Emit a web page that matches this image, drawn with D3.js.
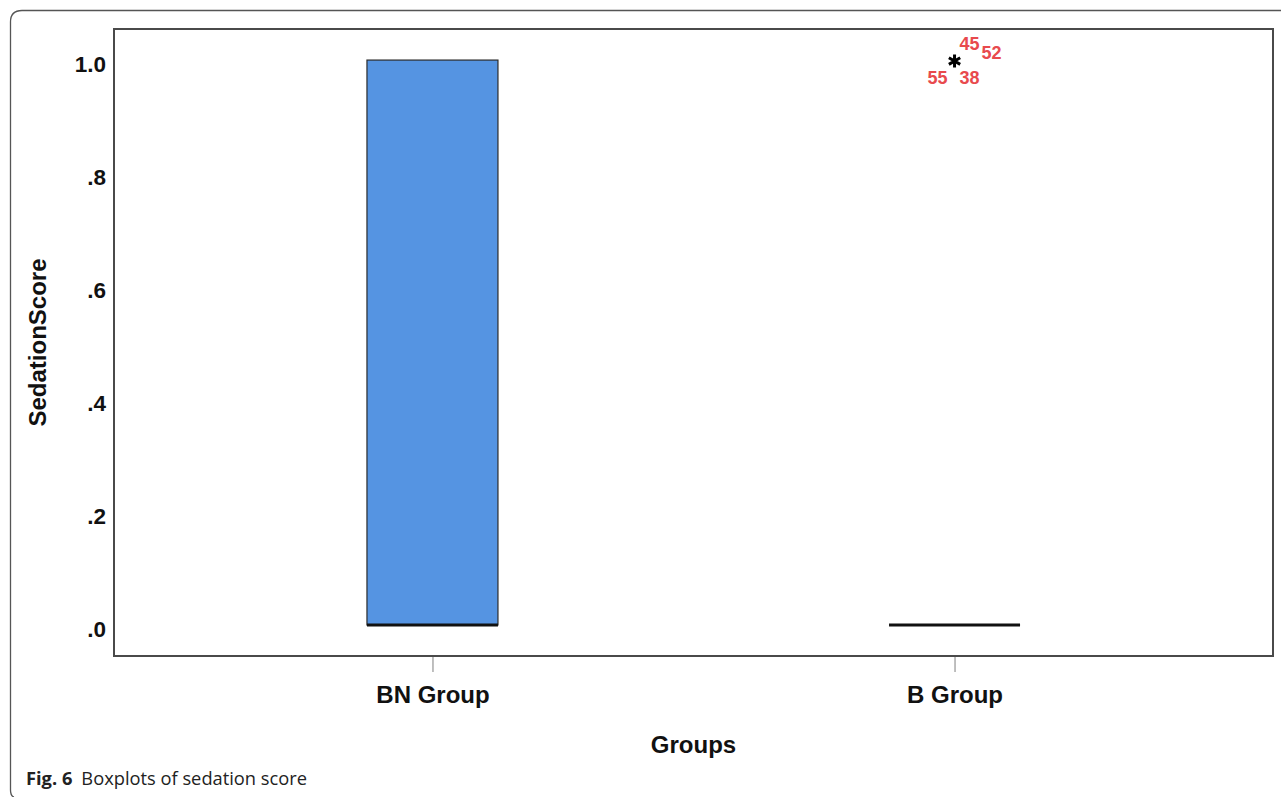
<!DOCTYPE html>
<html>
<head>
<meta charset="utf-8">
<script src="https://cdn.jsdelivr.net/npm/d3@7"></script>
<style>
  html, body { margin: 0; padding: 0; background: #fff; }
  svg { display: block; }
</style>
</head>
<body>
<svg id="chart" width="1281" height="797"></svg>
<script>
// Group labels on the x axis
const groups = ["BN Group", "B Group"];
// Five-number summaries per group (min, q1, median, q3, max)
const boxMin = [0, 0];
const boxQ1 = [0, 0];
const boxMedian = [0, 0];
const boxQ3 = [1, 0];
const boxMax = [1, 0];
// Extreme values (drawn as asterisks) with their case numbers
const extremeGroup = ["B Group", "B Group", "B Group", "B Group"];
const extremeValue = [1, 1, 1, 1];
const extremeCase = ["45", "52", "55", "38"];
// Y-axis tick values and labels
const yTicks = [0, 0.2, 0.4, 0.6, 0.8, 1.0];
const yTickLabels = [".0", ".2", ".4", ".6", ".8", "1.0"];

const svg = d3.select("#chart");
const labelFont = "Liberation Sans, Arial, sans-serif";

// Outer figure frame (rounded top-left corner, open to the right)
svg.append("path")
  .attr("d", "M1281,10.5 L22,10.5 Q10.5,10.5 10.5,22 L10.5,790 Q10.5,796 14,797")
  .attr("fill", "none")
  .attr("stroke", "#555")
  .attr("stroke-width", 1.3);

const plot = { left: 114, top: 29, right: 1273, bottom: 656 };

const y = d3.scaleLinear()
  .domain([-0.055, 1.055])
  .range([plot.bottom, plot.top]);

const x = d3.scalePoint()
  .domain(groups)
  .range([plot.left, plot.right])
  .padding(0.61);

const boxWidth = 131;

// Plot frame
svg.append("rect")
  .attr("x", plot.left).attr("y", plot.top)
  .attr("width", plot.right - plot.left)
  .attr("height", plot.bottom - plot.top)
  .attr("fill", "none")
  .attr("stroke", "#4a4a4a")
  .attr("stroke-width", 2);

// Y axis labels (no tick marks)
const yAxis = d3.axisLeft(y)
  .tickValues(yTicks)
  .tickSize(0)
  .tickPadding(8)
  .tickFormat((d, i) => yTickLabels[i]);
const gy = svg.append("g")
  .attr("transform", `translate(${plot.left},0)`)
  .call(yAxis);
gy.select(".domain").remove();
gy.selectAll("text")
  .attr("dy", "0.5em")
  .attr("font-family", labelFont)
  .attr("font-size", 22.5)
  .attr("font-weight", "bold")
  .attr("fill", "#111");

// X axis: short gray ticks below the frame
const xAxis = d3.axisBottom(x)
  .tickSize(15)
  .tickPadding(14);
const gx = svg.append("g")
  .attr("transform", `translate(0,${plot.bottom + 1})`)
  .call(xAxis);
gx.select(".domain").remove();
gx.selectAll("line").attr("stroke", "#aaa").attr("stroke-width", 1.5);
gx.selectAll("text")
  .attr("font-family", labelFont)
  .attr("font-size", 24)
  .attr("font-weight", "bold")
  .attr("fill", "#111");

// Boxes
groups.forEach((g, i) => {
  const cx = x(g);
  if (boxQ3[i] > boxQ1[i]) {
    svg.append("rect")
      .attr("x", cx - boxWidth / 2)
      .attr("y", y(boxQ3[i]))
      .attr("width", boxWidth)
      .attr("height", y(boxQ1[i]) - y(boxQ3[i]))
      .attr("fill", "#5594e2")
      .attr("stroke", "#2b2b2b")
      .attr("stroke-width", 1.2);
  }
  // Whiskers only where they extend beyond the box
  if (boxMax[i] > boxQ3[i]) {
    svg.append("line")
      .attr("x1", cx).attr("x2", cx)
      .attr("y1", y(boxQ3[i])).attr("y2", y(boxMax[i]))
      .attr("stroke", "#222");
  }
  if (boxMin[i] < boxQ1[i]) {
    svg.append("line")
      .attr("x1", cx).attr("x2", cx)
      .attr("y1", y(boxQ1[i])).attr("y2", y(boxMin[i]))
      .attr("stroke", "#222");
  }
  // Median
  svg.append("line")
    .attr("x1", cx - boxWidth / 2).attr("x2", cx + boxWidth / 2)
    .attr("y1", y(boxMedian[i])).attr("y2", y(boxMedian[i]))
    .attr("stroke", "#111")
    .attr("stroke-width", 3);
});

// Extreme values
const extremeOffsets = [[15, -17], [37, -8], [-17, 17], [15, 17]];
const starDone = new Set();
extremeGroup.forEach((g, i) => {
  const cx = x(g), cy = y(extremeValue[i]);
  const key = g + "|" + extremeValue[i];
  if (!starDone.has(key)) {
    starDone.add(key);
    svg.append("path")
      .attr("transform", `translate(${cx},${cy + 1})`)
      .attr("d", d3.symbol().type(d3.symbolAsterisk).size(120)())
      .attr("fill", "none")
      .attr("stroke", "#000")
      .attr("stroke-width", 3);
  }
  svg.append("text")
    .attr("x", cx + extremeOffsets[i][0])
    .attr("y", cy + extremeOffsets[i][1])
    .attr("dy", "0.36em")
    .attr("text-anchor", "middle")
    .attr("font-family", labelFont)
    .attr("font-size", 18)
    .attr("font-weight", "bold")
    .attr("fill", "#e84a4d")
    .text(extremeCase[i]);
});

// Axis titles
svg.append("text")
  .attr("x", (plot.left + plot.right) / 2)
  .attr("y", 753)
  .attr("text-anchor", "middle")
  .attr("font-family", labelFont)
  .attr("font-size", 24)
  .attr("font-weight", "bold")
  .attr("fill", "#111")
  .text("Groups");

svg.append("text")
  .attr("transform", `translate(46,${(plot.top + plot.bottom) / 2}) rotate(-90)`)
  .attr("text-anchor", "middle")
  .attr("font-family", labelFont)
  .attr("font-size", 24)
  .attr("font-weight", "bold")
  .attr("fill", "#111")
  .text("SedationScore");

// Caption
const cap = svg.append("text")
  .attr("x", 26)
  .attr("y", 785)
  .attr("font-family", "Open Sans, Noto Sans, sans-serif")
  .attr("font-size", 18.3)
  .attr("fill", "#222");
cap.append("tspan").attr("font-weight", "bold").text("Fig. 6");
cap.append("tspan").attr("dx", 9).text("Boxplots of sedation score");
</script>
</body>
</html>
